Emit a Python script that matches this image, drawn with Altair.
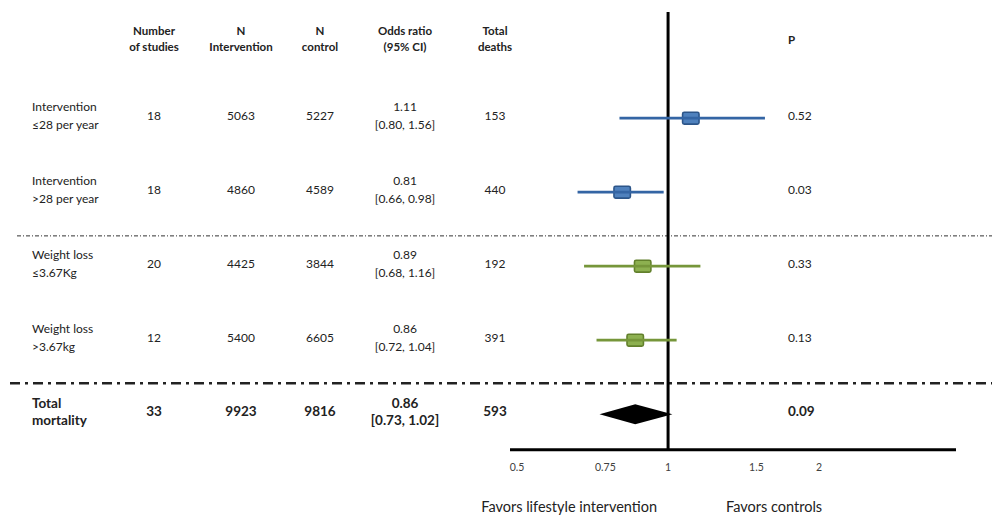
import altair as alt
import pandas as pd

# ---------------- data ----------------
labels = ["Intervention\n≤28 per year", "Intervention\n>28 per year",
          "Weight loss\n≤3.67Kg", "Weight loss\n>3.67kg", "Total\nmortality"]
groups = ["Frequency", "Frequency", "Weight loss", "Weight loss", "Total"]
n_studies = [18, 18, 20, 12, 33]
n_intervention = [5063, 4860, 4425, 5400, 9923]
n_control = [5227, 4589, 3844, 6605, 9816]
odds_ratio = [1.11, 0.81, 0.89, 0.86, 0.86]
ci_low = [0.80, 0.66, 0.68, 0.72, 0.73]
ci_high = [1.56, 0.98, 1.16, 1.04, 1.02]
total_deaths = [153, 440, 192, 391, 593]
p_values = ["0.52", "0.03", "0.33", "0.13", "0.09"]
headers = ["Number\nof studies", "N\nIntervention", "N\ncontrol",
           "Odds ratio\n(95% CI)", "Total\ndeaths", "P"]
tick_values = [0.5, 0.75, 1, 1.5, 2]
tick_labels = ["0.5", "0.75", "1", "1.5", "2"]
favor_labels = ["Favors lifestyle intervention", "Favors controls"]

# ---------------- layout ----------------
W, H = 984, 508
ROW0, ROW_PX = 34, 74
FONT = "Lato"
TXT = "#222222"

n = len(labels)
df = pd.DataFrame({
    "label": labels,
    "group": groups,
    "n_studies": [str(v) for v in n_studies],
    "n_int": [str(v) for v in n_intervention],
    "n_ctrl": [str(v) for v in n_control],
    "or_txt": [f"{o:.2f}\n[{l:.2f}, {h:.2f}]" for o, l, h in zip(odds_ratio, ci_low, ci_high)],
    "deaths": [str(v) for v in total_deaths],
    "p": p_values,
    "or": odds_ratio,
    "lo": ci_low,
    "hi": ci_high,
    "row": list(range(1, n + 1)),
    "is_total": [g == "Total" for g in groups],
})
df["row_f"] = df["row"] + 0.03

ys = alt.Scale(domain=[-ROW0 / ROW_PX, (H - ROW0) / ROW_PX], reverse=True, nice=False, zero=False)
xs = alt.Scale(type="log", domain=[0.484, 3.75], range=[502, 948], nice=False)

base = alt.Chart(df)
layers = []

# table columns: (field, x pixel, align, header index, multiline)
cols = [("label", 24, "left", None, True), ("n_studies", 146, "center", 0, False),
        ("n_int", 233, "center", 1, False), ("n_ctrl", 312, "center", 2, False),
        ("or_txt", 397, "center", 3, True), ("deaths", 487, "center", 4, False),
        ("p", 780, "left", 5, False)]

hdr_df = pd.DataFrame({"h": headers, "row": [0] * len(headers), "i": list(range(len(headers)))})

for field, xp, al, hi, multi in cols:
    layers.append(
        base.transform_filter("!datum.is_total").mark_text(
            align=al, baseline="middle", font=FONT, fontSize=12, color=TXT, lineBreak="\n",
            lineHeight=18, dy=-9 if multi else 0
        ).encode(x=alt.value(xp), y=alt.Y("row:Q", scale=ys, axis=None), text=f"{field}:N")
    )
    layers.append(
        base.transform_filter("datum.is_total").mark_text(
            align=al, baseline="middle", font=FONT, fontSize=13.5, fontWeight="bold", color=TXT,
            lineBreak="\n", lineHeight=17, dy=-8.5 if multi else 0
        ).encode(x=alt.value(xp), y=alt.Y("row:Q", scale=ys, axis=None), text=f"{field}:N")
    )
    if hi is not None:
        hmulti = "\n" in headers[hi]
        layers.append(
            alt.Chart(hdr_df).transform_filter(f"datum.i == {hi}").mark_text(
                align=al, baseline="middle", font=FONT, fontSize=11.5, fontWeight="bold", color=TXT,
                lineBreak="\n", lineHeight=16, dy=-10 if hmulti else -1
            ).encode(x=alt.value(xp), y=alt.Y("row:Q", scale=ys, axis=None), text="h:N")
        )

# separators
sep1 = df[df.group != "Total"].groupby("group")["row"].max().min() + 0.62
sep2 = df[df.group != "Total"]["row"].max() + 0.61
layers.append(
    alt.Chart(pd.DataFrame({"y": [sep1]})).mark_rule(strokeDash=[4, 2, 1, 2], strokeWidth=1, color="#333")
    .encode(x=alt.value(9), x2=alt.value(W), y=alt.Y("y:Q", scale=ys, axis=None))
)
layers.append(
    alt.Chart(pd.DataFrame({"y": [sep2]})).mark_rule(strokeDash=[10, 5, 3, 5], strokeWidth=2.5, color="#222")
    .encode(x=alt.value(2), x2=alt.value(W), y=alt.Y("y:Q", scale=ys, axis=None))
)

axis_row = n + 0.51

# vertical line at OR = 1
layers.append(
    alt.Chart(pd.DataFrame({"x": [1.0], "y": [-0.405], "y2": [axis_row]})).mark_rule(strokeWidth=3, color="black")
    .encode(x=alt.X("x:Q", scale=xs, axis=None), y=alt.Y("y:Q", scale=ys, axis=None), y2="y2:Q")
)
# horizontal axis line
layers.append(
    alt.Chart(pd.DataFrame({"x": [xs.domain[0]], "x2": [xs.domain[1]], "y": [axis_row]}))
    .mark_rule(strokeWidth=3, color="black")
    .encode(x=alt.X("x:Q", scale=xs, axis=None), x2="x2:Q", y=alt.Y("y:Q", scale=ys, axis=None))
)
# tick labels
layers.append(
    alt.Chart(pd.DataFrame({"v": tick_values, "t": tick_labels, "y": [axis_row + 0.25] * len(tick_values)}))
    .mark_text(font=FONT, fontSize=10.5, color="#404040", baseline="middle")
    .encode(x=alt.X("v:Q", scale=xs, axis=None), y=alt.Y("y:Q", scale=ys, axis=None), text="t:N")
)
# favors labels
fav_y = axis_row + 0.79
layers.append(
    alt.Chart(pd.DataFrame({"v": [1.0], "t": [favor_labels[0]], "y": [fav_y]}))
    .mark_text(font=FONT, fontSize=14.5, color=TXT, align="right", baseline="middle", dx=-11)
    .encode(x=alt.X("v:Q", scale=xs, axis=None), y=alt.Y("y:Q", scale=ys, axis=None), text="t:N")
)
layers.append(
    alt.Chart(pd.DataFrame({"v": [1.0], "t": [favor_labels[1]], "y": [fav_y]}))
    .mark_text(font=FONT, fontSize=14.5, color=TXT, align="left", baseline="middle", dx=58)
    .encode(x=alt.X("v:Q", scale=xs, axis=None), y=alt.Y("y:Q", scale=ys, axis=None), text="t:N")
)

# subgroup CIs and squares
line_scale = alt.Scale(domain=["Frequency", "Weight loss"], range=["#3465a4", "#76963a"])
fill_scale = alt.Scale(domain=["Frequency", "Weight loss"], range=["#4f81bd", "#8db050"])
stroke_scale = alt.Scale(domain=["Frequency", "Weight loss"], range=["#2c5589", "#62802c"])
sub = base.transform_filter("!datum.is_total")
square_path = ("M-0.8,-0.72 L0.8,-0.72 Q1,-0.72 1,-0.52 L1,0.52 Q1,0.72 0.8,0.72 "
               "L-0.8,0.72 Q-1,0.72 -1,0.52 L-1,-0.52 Q-1,-0.72 -0.8,-0.72 Z")
layers.append(
    sub.mark_point(shape=square_path, size=270, filled=True, opacity=1, strokeWidth=1.6)
    .encode(x=alt.X("or:Q", scale=xs, axis=None), y=alt.Y("row_f:Q", scale=ys, axis=None),
            fill=alt.Fill("group:N", scale=fill_scale, legend=None),
            stroke=alt.Stroke("group:N", scale=stroke_scale, legend=None))
)
layers.append(
    sub.mark_rule(strokeWidth=2.8)
    .encode(x=alt.X("lo:Q", scale=xs, axis=None), x2="hi:Q", y=alt.Y("row_f:Q", scale=ys, axis=None),
            color=alt.Color("group:N", scale=line_scale, legend=None))
)

# pooled diamond
tot = df[df.is_total].iloc[0]
half = 0.135
dia = pd.DataFrame({
    "x": [tot["lo"], tot["or"], tot["hi"]],
    "yt": [tot["row_f"], tot["row_f"] - half, tot["row_f"]],
    "yb": [tot["row_f"], tot["row_f"] + half, tot["row_f"]],
})
layers.append(
    alt.Chart(dia).mark_area(color="black", opacity=1)
    .encode(x=alt.X("x:Q", scale=xs, axis=None), y=alt.Y("yt:Q", scale=ys, axis=None), y2="yb:Q")
)

chart = alt.layer(*layers).properties(
    width=W, height=H, padding=0, autosize=alt.AutoSizeParams(type="none"),
    background="white"
).configure_view(stroke=None)

chart.save("out.html", embed_options={"renderer": "svg", "actions": False})
